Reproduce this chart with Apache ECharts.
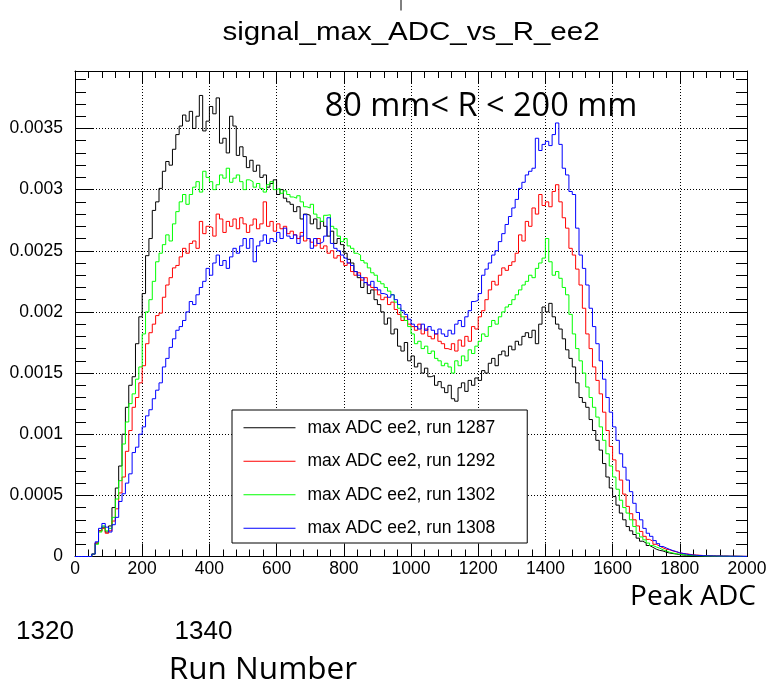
<!DOCTYPE html>
<html><head><meta charset="utf-8">
<script src="https://cdn.jsdelivr.net/npm/echarts@6/dist/echarts.min.js"></script>
<style>html,body{margin:0;padding:0;background:#fff}#c{width:772px;height:687px}</style>
</head><body><div id="c"></div><script>
// Histogram settings
const BIN_WIDTH = 10;          // ADC per bin
const X_MIN = 0, X_MAX = 2000, X_STEP = 200;
const Y_MIN = 0, Y_MAX = 0.00397, Y_STEP = 0.0005;
const VALUE_SCALE = 1e-6;      // values below are stored in units of 1e-6

const seriesNames = ['max ADC ee2, run 1287', 'max ADC ee2, run 1292', 'max ADC ee2, run 1302', 'max ADC ee2, run 1308'];
const seriesColors = ['#000000', '#ff0000', '#00ff00', '#0000ff'];

const run1287 = [
0,0,0,0,0,20,110,210,240,200,
250,400,560,740,1000,1220,1400,1470,1740,1960,
2150,2460,2600,2830,2900,3010,3150,3230,3200,3330,
3450,3520,3610,3560,3640,3500,3600,3770,3480,3560,
3680,3620,3750,3380,3420,3300,3600,3520,3280,3350,
3270,3180,3240,3150,3200,3100,3120,3020,3050,3080,
2960,3000,2930,2900,2880,2820,2860,2760,2800,2790,
2720,2760,2680,2740,2700,2620,2660,2560,2600,2550,
2480,2430,2400,2330,2280,2200,2240,2150,2180,2100,
2060,2000,1900,1950,1820,1860,1720,1680,1750,1600,
1640,1550,1580,1500,1540,1470,1480,1400,1430,1380,
1340,1400,1290,1270,1380,1420,1350,1440,1400,1460,
1440,1520,1500,1580,1620,1560,1650,1680,1640,1720,
1690,1760,1730,1800,1830,1790,1850,1740,1900,2040,
2000,2070,1960,1900,1860,1780,1690,1620,1550,1420,
1300,1260,1220,1120,1030,950,870,760,650,560,
490,420,355,300,245,210,180,150,125,110,
90,75,60,50,45,35,28,24,20,15,
12,10,8,7,6,5,4,3,4,3,
2,3,2,2,1,2,1,1,1,0];

const run1292 = [
0,0,0,0,0,20,110,210,230,190,
210,290,390,520,650,860,1030,1220,1300,1420,
1560,1740,1830,1900,1970,1990,2120,2220,2280,2360,
2380,2450,2520,2480,2560,2580,2520,2740,2640,2700,
2690,2620,2800,2760,2650,2740,2700,2760,2680,2770,
2720,2650,2710,2760,2680,2720,2900,2700,2740,2660,
2720,2680,2700,2640,2660,2630,2600,2650,2580,2600,
2570,2540,2600,2520,2540,2480,2500,2440,2460,2410,
2380,2400,2330,2300,2320,2260,2280,2220,2200,2180,
2140,2100,2120,2060,2080,2020,1980,1930,1960,1900,
1880,1850,1900,1820,1860,1800,1780,1820,1760,1740,
1700,1690,1740,1680,1770,1720,1800,1760,1880,1860,
1960,2010,2100,2180,2250,2220,2300,2360,2340,2380,
2410,2480,2630,2580,2740,2700,2850,2800,2960,2870,
2900,2860,2985,3040,2900,2770,2685,2520,2465,2350,
2220,2030,1820,1700,1550,1440,1330,1180,1030,900,
790,700,625,510,410,350,300,250,205,165,
140,125,100,85,70,60,55,45,38,30,
25,22,18,14,12,10,8,7,6,5,
5,4,3,3,2,2,2,1,1,1];

const run1302 = [
0,0,0,0,0,20,100,200,250,210,
230,320,470,620,920,1100,1250,1330,1450,1550,
1820,2000,2100,2250,2410,2480,2550,2630,2580,2720,
2820,2900,2960,2880,2960,3020,3065,2980,3150,3100,
3065,3000,3040,3120,3094,3175,3060,3094,3120,3065,
3000,3080,3065,3020,3050,3010,2980,3040,3065,3000,
3010,2970,2990,2960,2940,2930,2950,2900,2860,2850,
2880,2800,2770,2740,2790,2795,2700,2680,2620,2575,
2600,2540,2520,2480,2465,2420,2400,2360,2320,2300,
2250,2230,2200,2170,2140,2080,2030,1960,1930,1880,
1820,1740,1760,1700,1720,1660,1680,1620,1600,1560,
1580,1550,1500,1600,1560,1640,1600,1690,1660,1720,
1760,1820,1800,1880,1930,1900,1960,2000,2040,2060,
2100,2140,2180,2220,2250,2300,2280,2356,2400,2440,
2600,2410,2300,2330,2275,2200,2140,1980,1820,1700,
1600,1500,1386,1300,1220,1140,1060,950,840,740,
650,550,460,400,355,300,245,190,160,136,
110,90,78,68,55,45,35,28,22,18,
15,12,10,8,7,6,5,4,4,3,
3,2,2,2,1,1,1,1,0,0];

const run1308 = [
0,0,0,0,0,20,120,230,270,240,
200,260,320,450,513,600,676,850,894,1000,
1060,1150,1200,1290,1360,1420,1550,1620,1710,1780,
1850,1880,1930,2000,2085,2060,2140,2200,2250,2356,
2300,2400,2465,2380,2420,2356,2450,2520,2480,2540,
2600,2520,2600,2410,2540,2580,2630,2560,2600,2575,
2650,2600,2685,2620,2600,2630,2560,2620,2795,2600,
2520,2600,2560,2575,2620,2770,2560,2520,2500,2465,
2440,2400,2380,2330,2300,2280,2240,2220,2250,2200,
2180,2150,2140,2120,2140,2100,2060,2010,1980,1940,
1900,1880,1860,1900,1850,1880,1850,1820,1860,1820,
1800,1850,1820,1900,1930,1880,1960,2010,2085,2094,
2150,2300,2350,2400,2465,2500,2575,2640,2715,2780,
2850,2920,3010,3060,3120,3150,3175,3420,3320,3370,
3395,3360,3450,3545,3370,3175,3120,2985,2960,2685,
2465,2356,2220,2030,1880,1740,1600,1450,1300,1180,
1060,950,840,730,625,530,435,360,300,230,
190,165,130,105,82,70,58,48,40,30,
25,20,15,12,10,8,7,6,5,5,
4,4,3,3,3,2,2,2,1,1];

const seriesValues = [run1287, run1292, run1302, run1308];

const FONT = "'Liberation Sans', Arial, sans-serif";
const FONT2 = "'Open Sans', 'Noto Sans', sans-serif";

function histData(vals) {
  const d = vals.map((v, i) => [X_MIN + i * BIN_WIDTH, v * VALUE_SCALE]);
  d.push([X_MIN + vals.length * BIN_WIDTH, vals[vals.length - 1] * VALUE_SCALE]);
  return d;
}

const chart = echarts.init(document.getElementById('c'), null, {renderer: 'canvas'});

const dotted = {show: true, lineStyle: {color: '#000', width: 1, type: [1, 2]}};
const axLine = {show: true, onZero: false, lineStyle: {color: '#000', width: 1}};

function xAx(pos, labels) {
  return {
    type: 'value', position: pos, min: X_MIN, max: X_MAX, interval: X_STEP,
    axisLine: axLine,
    axisTick: {show: true, inside: true, length: 13, lineStyle: {color: '#000'}},
    minorTick: {show: true, splitNumber: 5, length: 7, lineStyle: {color: '#000'}},
    splitLine: labels ? dotted : {show: false},
    axisLabel: labels ? {show: true, color: '#000', fontFamily: FONT, fontSize: 17.5, margin: 4,
      formatter: v => String(Math.round(v))} : {show: false}
  };
}
function yAx(pos, labels) {
  return {
    type: 'value', position: pos, min: Y_MIN, max: Y_MAX, interval: Y_STEP,
    axisLine: axLine,
    axisTick: {show: true, inside: true, length: 18, lineStyle: {color: '#000'}},
    minorTick: {show: true, splitNumber: 5, length: 11, lineStyle: {color: '#000'}},
    splitLine: labels ? dotted : {show: false},
    axisLabel: labels ? {
      show: true, color: '#000', fontFamily: FONT, fontSize: 17.5, margin: 12,
      showMaxLabel: false,
      formatter: v => (v > Y_MAX - Y_STEP * 0.5 ? '' : String(Math.round(v * 1e4) / 1e4))
    } : {show: false}
  };
}

chart.setOption({
  animation: false,
  backgroundColor: '#fff',
  grid: {left: 75, right: 25, top: 71, bottom: 130.5, containLabel: false},
  xAxis: [xAx('bottom', true), xAx('top', false)],
  yAxis: [yAx('left', true), yAx('right', false)],
  legend: {
    orient: 'vertical', left: 232, top: 410,
    data: seriesNames,
    itemWidth: 52, itemHeight: 14,
    itemGap: 15.5,
    padding: [8.75, 32, 5.75, 11],
    borderColor: '#000', borderWidth: 1, backgroundColor: '#fff',
    selectedMode: false,
    itemStyle: {opacity: 0},
    lineStyle: {width: 1, opacity: 1},
    textStyle: {fontFamily: FONT, fontSize: 17.5, color: '#000', lineHeight: 17.5, padding: [0, 0, 0, 7]}
  },
  series: seriesNames.map((n, k) => ({
    name: n, type: 'line', step: 'end', symbol: 'none', showSymbol: false,
    xAxisIndex: 0, yAxisIndex: 0, clip: true,
    data: histData(seriesValues[k]),
    itemStyle: {color: seriesColors[k]},
    lineStyle: {color: seriesColors[k], width: 1},
    z: 2 + k
  })),
  graphic: [
    {type: 'line', shape: {x1: 401, y1: 0, x2: 401, y2: 10.5}, style: {stroke: '#000', lineWidth: 1}},
    {type: 'text', x: 411, y: 33, scaleX: 1.157,
      style: {text: 'signal_max_ADC_vs_R_ee2', font: "25.5px " + FONT, fill: '#000', align: 'center', verticalAlign: 'middle'}},
    {type: 'text', x: 481, y: 107, z: 10,
      style: {text: '80 mm< R < 200 mm', font: "32.5px " + FONT2, fill: '#000', align: 'center', verticalAlign: 'middle'}},
    {type: 'text', x: 693, y: 597.5,
      style: {text: 'Peak ADC', font: "28px " + FONT2, fill: '#000', align: 'center', verticalAlign: 'middle'}},
    {type: 'text', x: 45, y: 632,
      style: {text: '1320', font: "26px " + FONT, fill: '#000', align: 'center', verticalAlign: 'middle'}},
    {type: 'text', x: 203.5, y: 632,
      style: {text: '1340', font: "26px " + FONT, fill: '#000', align: 'center', verticalAlign: 'middle'}},
    {type: 'text', x: 263, y: 670,
      style: {text: 'Run Number', font: "31.5px " + FONT2, fill: '#000', align: 'center', verticalAlign: 'middle'}}
  ]
});
</script></body></html>
